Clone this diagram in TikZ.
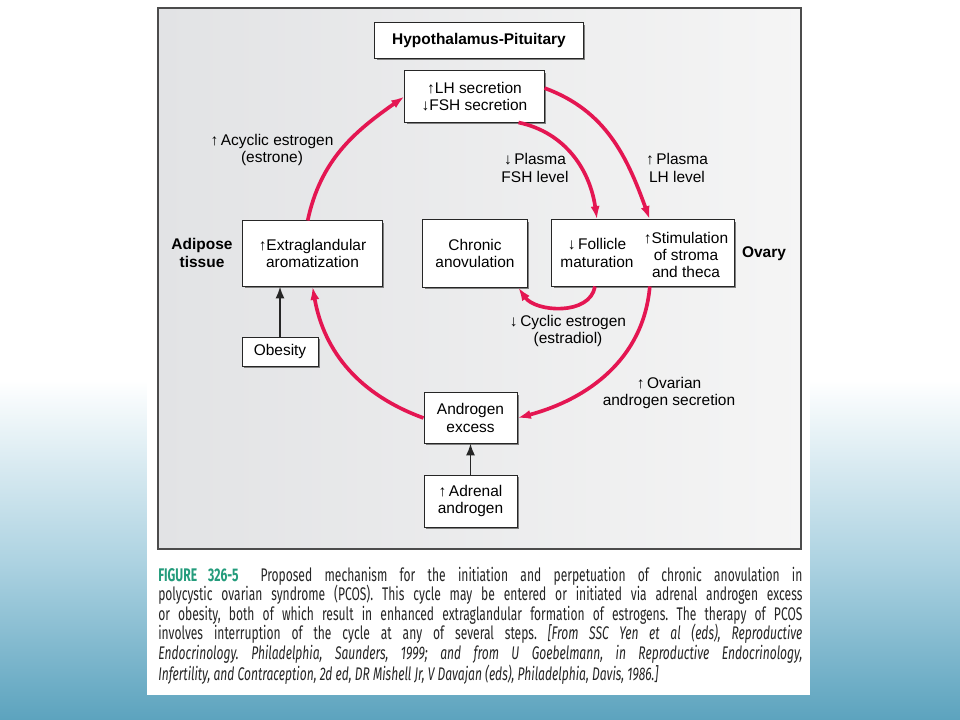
\documentclass[tikz,border=0pt]{standalone}
\usepackage{fontspec}
\setmainfont{Liberation Sans}
\newfontfamily\capfont[FakeStretch=0.66]{Fira Sans}
\usepackage{xcolor}
\usetikzlibrary{arrows.meta,shadows}

\definecolor{pcosred}{RGB}{228,22,82}
\definecolor{panelgray}{RGB}{226,227,229}
\definecolor{slideblue}{RGB}{92,163,190}
\definecolor{slidemid}{RGB}{172,210,225}
\definecolor{figteal}{RGB}{36,156,124}

\pgfdeclareverticalshading{slidefade}{100bp}{color(0bp)=(slideblue); color(25bp)=(slideblue); color(48bp)=(slidemid); color(75bp)=(white); color(100bp)=(white)}

\newcommand{\figfont}{\fontsize{11}{12.2}\selectfont}

\tikzset{
  box/.style={draw=black!85, line width=0.7pt, fill=white, align=center, inner sep=0pt,
    drop shadow={shadow xshift=1.3pt, shadow yshift=-1.3pt, fill=black!50, opacity=1}},
  lbl/.style={align=center, inner sep=0pt},
  boldlbl/.style={align=center, inner sep=0pt, font=\figfont\bfseries},
  cyc/.style={pcosred, line width=2.6pt, -{Latex[length=9.5pt,width=6.5pt]}},
  feed/.style={black!85, line width=1.4pt, -{Latex[length=8.5pt,width=6.5pt]}}
}

\begin{document}
\begin{tikzpicture}[x=0.025cm, y=0.025cm, font=\figfont]
        \useasboundingbox (0,0) rectangle (960,-720);
        % Slide background
        \fill[white] (0,0) rectangle (960,-720);
        \shade[shading=slidefade] (0,-380) rectangle (960,-720);
        \fill[white] (147,0) rectangle (810,-695);

        % Figure panel
        \shadedraw[left color=panelgray, right color=black!4, draw=black!70, line width=0.8pt]
            (158,-8) rectangle (801,-549);

        % Boxes
        \node[box, minimum width=5.2cm, minimum height=0.875cm, font=\figfont\bfseries] (hp) at (479,-40.5) {Hypothalamus-Pituitary};
        \node[box, minimum width=3.475cm, minimum height=1.275cm] (lh) at (474.5,-96.5) {↑LH secretion\\↓FSH secretion};
        \node[box, minimum width=3.475cm, minimum height=1.625cm] (extra) at (312.5,-253.5) {↑Extraglandular\\aromatization};
        \node[box, minimum width=1.9cm, minimum height=0.725cm] (obesity) at (280,-352) {Obesity};
        \node[box, minimum width=2.6cm, minimum height=1.675cm] (chronic) at (475,-253.5) {Chronic\\anovulation};
        \node[box, minimum width=4.55cm, minimum height=1.65cm] (ovary) at (643,-253) {};
        \node[box, minimum width=2.325cm, minimum height=1.25cm] (androgen) at (470.5,-418) {Androgen\\excess};
        \node[box, minimum width=2.325cm, minimum height=1.3cm] (adrenal) at (470.5,-501) {↑\,Adrenal\\androgen};

        % Text inside the ovary box
        \node[lbl] (follicle) at (597,-253) {↓\,Follicle\\maturation};
        \node[lbl] (stroma) at (686,-255) {↑Stimulation\\of stroma\\and theca};

        % Side labels
        \node[boldlbl] (adipose) at (202,-253) {Adipose\\tissue};
        \node[boldlbl] (ovarylbl) at (764,-254) {Ovary};
        \node[lbl] (acyclic) at (272,-150) {↑\,Acyclic estrogen\\(estrone)};
        \node[lbl] (fshlvl) at (535,-168) {↓\,Plasma\\FSH level};
        \node[lbl] (lhlvl) at (677,-168) {↑\,Plasma\\LH level};
        \node[lbl] (cyclic) at (568,-331) {↓\,Cyclic estrogen\\(estradiol)};
        \node[lbl] (ovarian) at (669,-393) {↑\,Ovarian\\androgen secretion};

        % Cycle arrows
        \draw[cyc] ([xshift=-0.12cm]extra.north) to[out=78, in=215] (lh.west);
        \draw[cyc] ([yshift=0.21cm]lh.east) to[out=-20, in=110] ([xshift=0.17cm]ovary.north);
        \draw[cyc] ([xshift=1.1cm]lh.south) to[out=-12, in=98] (follicle |- ovary.north);
        \draw[cyc] ([xshift=0.17cm]ovary.south) to[out=-95, in=15] (androgen.east);
        \draw[cyc] ([xshift=-1.2cm]ovary.south) to[out=-100, in=-55] ([xshift=1.08cm]chronic.south);
        \draw[cyc] (androgen.west) to[out=160, in=-80] (extra.south);

        % Entry arrows
        \draw[feed] (obesity.north) -- (obesity.north |- extra.south);
        \draw[feed] (adrenal.north) -- (androgen.south);

        % Caption
        \node[anchor=north west, inner sep=0pt, text width=16.1cm, align=justify,
              font=\capfont\fontsize{13}{13.8}\selectfont\frenchspacing, text=black!85] (caption) at (158,-567)
        {{\color{figteal}\bfseries FIGURE 326-5}\hspace{1.2em}Proposed mechanism for the initiation and perpetuation of chronic anovulation in\linebreak
        polycystic ovarian syndrome (PCOS). This cycle may be entered or initiated via adrenal androgen excess\linebreak
        or obesity, both of which result in enhanced extraglandular formation of estrogens. The therapy of PCOS\linebreak
        involves interruption of the cycle at any of several steps. \textit{[From SSC Yen et al (eds), Reproductive\linebreak
        Endocrinology. Philadelphia, Saunders, 1999; and from U Goebelmann, in Reproductive Endocrinology,\linebreak
        Infertility, and Contraception, 2d ed, DR Mishell Jr, V Davajan (eds), Philadelphia, Davis, 1986.]}};
\end{tikzpicture}
\end{document}
